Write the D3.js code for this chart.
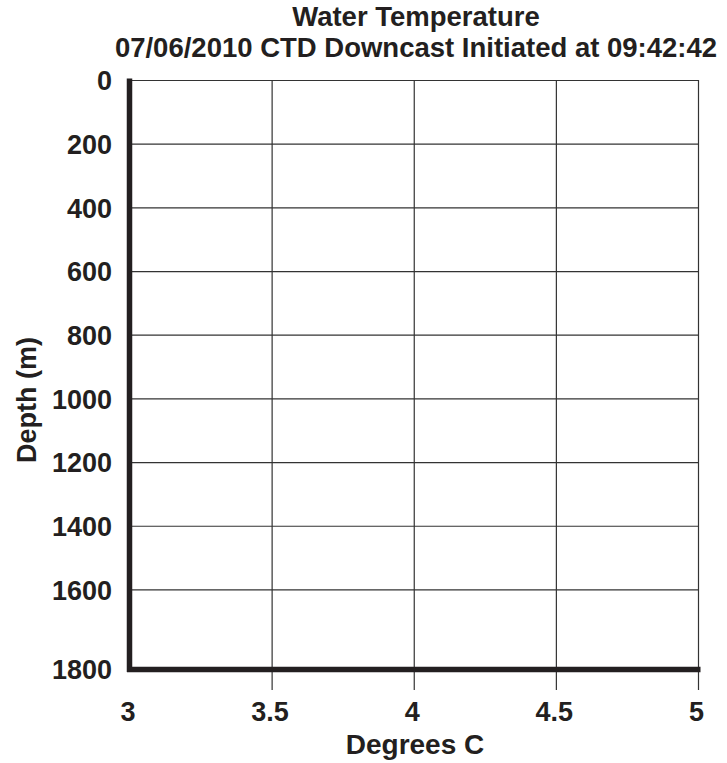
<!DOCTYPE html>
<html><head><meta charset="utf-8">
<script src="https://cdn.jsdelivr.net/npm/d3@7"></script>
<style>body{margin:0;background:#fff}svg{display:block}text{font-family:"Liberation Sans",Arial,Helvetica,sans-serif;font-weight:bold;fill:#231f20}</style>
</head><body>
<svg id="c" width="727" height="763"></svg>
<script>
const titleLines = ["Water Temperature", "07/06/2010 CTD Downcast Initiated at 09:42:42"];
const xLabel = "Degrees C";
const yLabel = "Depth (m)";
const xDomain = [3, 5];
const yDomain = [0, 1850];
const xTicks = [3, 3.5, 4, 4.5, 5];
const xTickLabels = ["3", "3.5", "4", "4.5", "5"];
const yTicks = [0, 200, 400, 600, 800, 1000, 1200, 1400, 1600, 1850];
const yTickLabels = ["0", "200", "400", "600", "800", "1000", "1200", "1400", "1600", "1800"];

const svg = d3.select("#c");
const m = {l: 130, r: 698.5, t: 80.5, b: 669.5};
const x = d3.scaleLinear().domain(xDomain).range([m.l, m.r]);
const y = d3.scaleLinear().domain(yDomain).range([m.t, m.b]);
const ink = "#231f20";

// horizontal gridlines
svg.append("g").selectAll("line").data(yTicks.slice(0, -1)).join("line")
  .attr("x1", m.l).attr("x2", m.r).attr("y1", d => y(d)).attr("y2", d => y(d))
  .attr("stroke", "#333").attr("stroke-width", 1.2);
// vertical gridlines with tick extension below axis
svg.append("g").selectAll("line").data(xTicks.slice(1)).join("line")
  .attr("x1", d => x(d)).attr("x2", d => x(d)).attr("y1", m.t - 0.5).attr("y2", m.b + 20.5)
  .attr("stroke", "#333").attr("stroke-width", 1.2);

// thick axes
svg.append("line").attr("x1", m.l - 0.5).attr("x2", m.l - 0.5).attr("y1", m.t - 2).attr("y2", m.b + 2.5)
  .attr("stroke", ink).attr("stroke-width", 5.5);
svg.append("line").attr("x1", m.l - 3).attr("x2", m.r + 2).attr("y1", m.b).attr("y2", m.b)
  .attr("stroke", ink).attr("stroke-width", 5.5);

// y tick labels
svg.append("g").selectAll("text").data(yTicks).join("text")
  .attr("x", 112).attr("y", d => y(d)).attr("dy", "0.36em")
  .attr("text-anchor", "end").attr("font-size", 27)
  .text((d, i) => yTickLabels[i]);
// x tick labels
svg.append("g").selectAll("text").data(xTicks).join("text")
  .attr("x", d => x(d) - 2).attr("y", 721)
  .attr("text-anchor", "middle").attr("font-size", 27)
  .text((d, i) => xTickLabels[i]);

// titles
svg.append("g").selectAll("text").data(titleLines).join("text")
  .attr("x", 416).attr("y", (d, i) => 26 + i * 31)
  .attr("text-anchor", "middle").attr("font-size", 27.5)
  .text(d => d);
svg.append("text").attr("x", 415).attr("y", 754).attr("text-anchor", "middle")
  .attr("font-size", 28).text(xLabel);
svg.append("text").attr("transform", `translate(36,400) rotate(-90)`)
  .attr("text-anchor", "middle").attr("font-size", 27).text(yLabel);
</script>
</body></html>
